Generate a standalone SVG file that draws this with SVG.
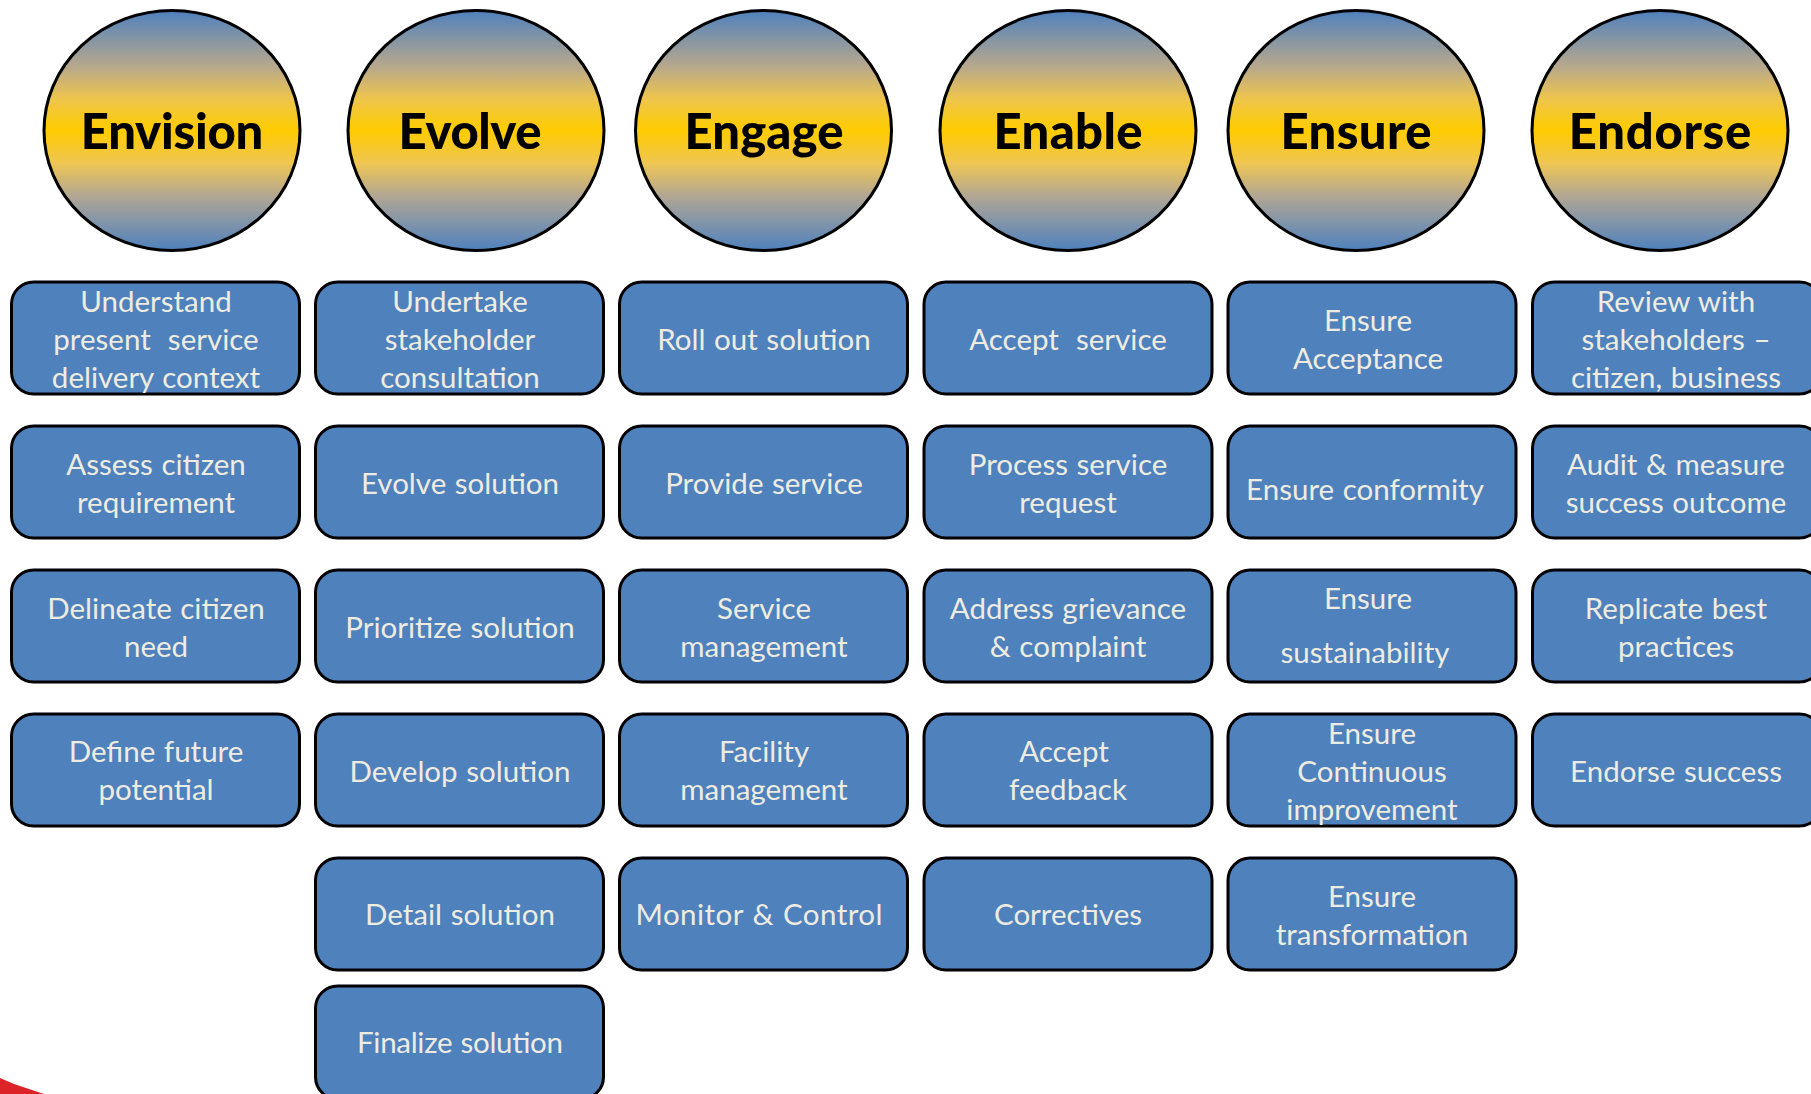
<svg xmlns="http://www.w3.org/2000/svg" width="1811" height="1094" viewBox="0 0 1811 1094">
<style>
.c{fill:url(#g);stroke:#000;stroke-width:3}
.b{fill:#4F81BD;stroke:#000;stroke-width:3}
.h{font-family:"Lato","Liberation Sans",sans-serif;font-weight:900;font-size:49px;fill:#000;text-anchor:middle}
.t{font-family:"Lato","Liberation Sans",sans-serif;font-size:29.500px;word-spacing:1px;fill:#EEECE1;text-anchor:middle;white-space:pre}
</style>
<defs>
<linearGradient id="g" x1="0" y1="0" x2="0" y2="1">
<stop offset="0" stop-color="#4F81BD"/>
<stop offset="0.235" stop-color="#B8A88C"/>
<stop offset="0.37" stop-color="#EEC54C"/>
<stop offset="0.5" stop-color="#FFCC00"/>
<stop offset="0.64" stop-color="#EEC555"/>
<stop offset="0.78" stop-color="#AEA596"/>
<stop offset="1" stop-color="#4F81BD"/>
</linearGradient>
</defs>
<rect width="1811" height="1094" fill="#fff"/>
<polygon points="0,1078 14,1084 44,1094 0,1094" fill="#DC2327"/>
<g id="h1"><ellipse class="c" cx="172" cy="130.500" rx="128" ry="120"/><text class="h" x="172" y="149" textLength="182.500">Envision</text></g>
<g id="h2"><ellipse class="c" cx="476" cy="130.500" rx="128" ry="120"/><text class="h" x="470" y="149" textLength="143">Evolve</text></g>
<g id="h3"><ellipse class="c" cx="763.500" cy="130.500" rx="128" ry="120"/><text class="h" x="764" y="149" textLength="159">Engage</text></g>
<g id="h4"><ellipse class="c" cx="1068" cy="130.500" rx="128" ry="120"/><text class="h" x="1068" y="149" textLength="149">Enable</text></g>
<g id="h5"><ellipse class="c" cx="1356" cy="130.500" rx="128" ry="120"/><text class="h" x="1356" y="149" textLength="151">Ensure</text></g>
<g id="h6"><ellipse class="c" cx="1660" cy="130.500" rx="128" ry="120"/><text class="h" x="1660" y="149" textLength="182.500">Endorse</text></g>

<g id="n11"><rect class="b" x="11.500" y="282" width="288" height="112" rx="22"/><text class="t" x="156" y="311.500">Understand</text><text class="t" x="156" y="349.500">present  service</text><text class="t" x="156" y="387.500">delivery context</text></g>
<g id="n12"><rect class="b" x="11.500" y="426" width="288" height="112" rx="22"/><text class="t" x="156" y="474.500">Assess citizen</text><text class="t" x="156" y="512.500">requirement</text></g>
<g id="n13"><rect class="b" x="11.500" y="570" width="288" height="112" rx="22"/><text class="t" x="156" y="618.500">Delineate citizen</text><text class="t" x="156" y="656.500">need</text></g>
<g id="n14"><rect class="b" x="11.500" y="714" width="288" height="112" rx="22"/><text class="t" x="156" y="762">Define future</text><text class="t" x="156" y="800">potential</text></g>

<g id="n21"><rect class="b" x="315.500" y="282" width="288" height="112" rx="22"/><text class="t" x="460" y="311.500">Undertake</text><text class="t" x="460" y="349.500">stakeholder</text><text class="t" x="460" y="387.500">consultation</text></g>
<g id="n22"><rect class="b" x="315.500" y="426" width="288" height="112" rx="22"/><text class="t" x="460" y="493.500">Evolve solution</text></g>
<g id="n23"><rect class="b" x="315.500" y="570" width="288" height="112" rx="22"/><text class="t" x="460" y="637.500">Prioritize solution</text></g>
<g id="n24"><rect class="b" x="315.500" y="714" width="288" height="112" rx="22"/><text class="t" x="460" y="781.500">Develop solution</text></g>
<g id="n25"><rect class="b" x="315.500" y="858" width="288" height="112" rx="22"/><text class="t" x="460" y="925">Detail solution</text></g>
<g id="n26"><rect class="b" x="315.500" y="986" width="288" height="113" rx="22"/><text class="t" x="460" y="1053" textLength="206">Finalize solution</text></g>

<g id="n31"><rect class="b" x="619.500" y="282" width="288" height="112" rx="22"/><text class="t" x="764" y="349.500">Roll out solution</text></g>
<g id="n32"><rect class="b" x="619.500" y="426" width="288" height="112" rx="22"/><text class="t" x="764" y="493.500">Provide service</text></g>
<g id="n33"><rect class="b" x="619.500" y="570" width="288" height="112" rx="22"/><text class="t" x="764" y="618.500">Service</text><text class="t" x="764" y="656.500">management</text></g>
<g id="n34"><rect class="b" x="619.500" y="714" width="288" height="112" rx="22"/><text class="t" x="764" y="762">Facility</text><text class="t" x="764" y="800">management</text></g>
<g id="n35"><rect class="b" x="619.500" y="858" width="288" height="112" rx="22"/><text class="t" x="759" y="925" textLength="247">Monitor &amp; Control</text></g>

<g id="n41"><rect class="b" x="924" y="282" width="288" height="112" rx="22"/><text class="t" x="1068" y="349.500">Accept  service</text></g>
<g id="n42"><rect class="b" x="924" y="426" width="288" height="112" rx="22"/><text class="t" x="1068" y="474.500">Process service</text><text class="t" x="1068" y="512.500">request</text></g>
<g id="n43"><rect class="b" x="924" y="570" width="288" height="112" rx="22"/><text class="t" x="1068" y="618.500">Address grievance</text><text class="t" x="1068" y="656.500">&amp; complaint</text></g>
<g id="n44"><rect class="b" x="924" y="714" width="288" height="112" rx="22"/><text class="t" x="1064" y="762">Accept</text><text class="t" x="1068" y="800">feedback</text></g>
<g id="n45"><rect class="b" x="924" y="858" width="288" height="112" rx="22"/><text class="t" x="1068" y="925">Correctives</text></g>

<g id="n51"><rect class="b" x="1228" y="282" width="288" height="112" rx="22"/><text class="t" x="1368" y="331">Ensure</text><text class="t" x="1368" y="369">Acceptance</text></g>
<g id="n52"><rect class="b" x="1228" y="426" width="288" height="112" rx="22"/><text class="t" x="1365" y="500">Ensure conformity</text></g>
<g id="n53"><rect class="b" x="1228" y="570" width="288" height="112" rx="22"/><text class="t" x="1368" y="608.500">Ensure</text><text class="t" x="1365" y="663">sustainability</text></g>
<g id="n54"><rect class="b" x="1228" y="714" width="288" height="112" rx="22"/><text class="t" x="1372" y="743.500">Ensure</text><text class="t" x="1372" y="781.500">Continuous</text><text class="t" x="1372" y="819.500">improvement</text></g>
<g id="n55"><rect class="b" x="1228" y="858" width="288" height="112" rx="22"/><text class="t" x="1372" y="906.500">Ensure</text><text class="t" x="1372" y="944.500">transformation</text></g>

<g id="n61"><rect class="b" x="1532.500" y="282" width="289" height="112" rx="22"/><text class="t" x="1676" y="311.500">Review with</text><text class="t" x="1676" y="349.500">stakeholders –</text><text class="t" x="1676" y="387.500">citizen, business</text></g>
<g id="n62"><rect class="b" x="1532.500" y="426" width="289" height="112" rx="22"/><text class="t" x="1676" y="474.500">Audit &amp; measure</text><text class="t" x="1676" y="512.500">success outcome</text></g>
<g id="n63"><rect class="b" x="1532.500" y="570" width="289" height="112" rx="22"/><text class="t" x="1676" y="618.500">Replicate best</text><text class="t" x="1676" y="656.500">practices</text></g>
<g id="n64"><rect class="b" x="1532.500" y="714" width="289" height="112" rx="22"/><text class="t" x="1676" y="781.500">Endorse success</text></g>
</svg>
